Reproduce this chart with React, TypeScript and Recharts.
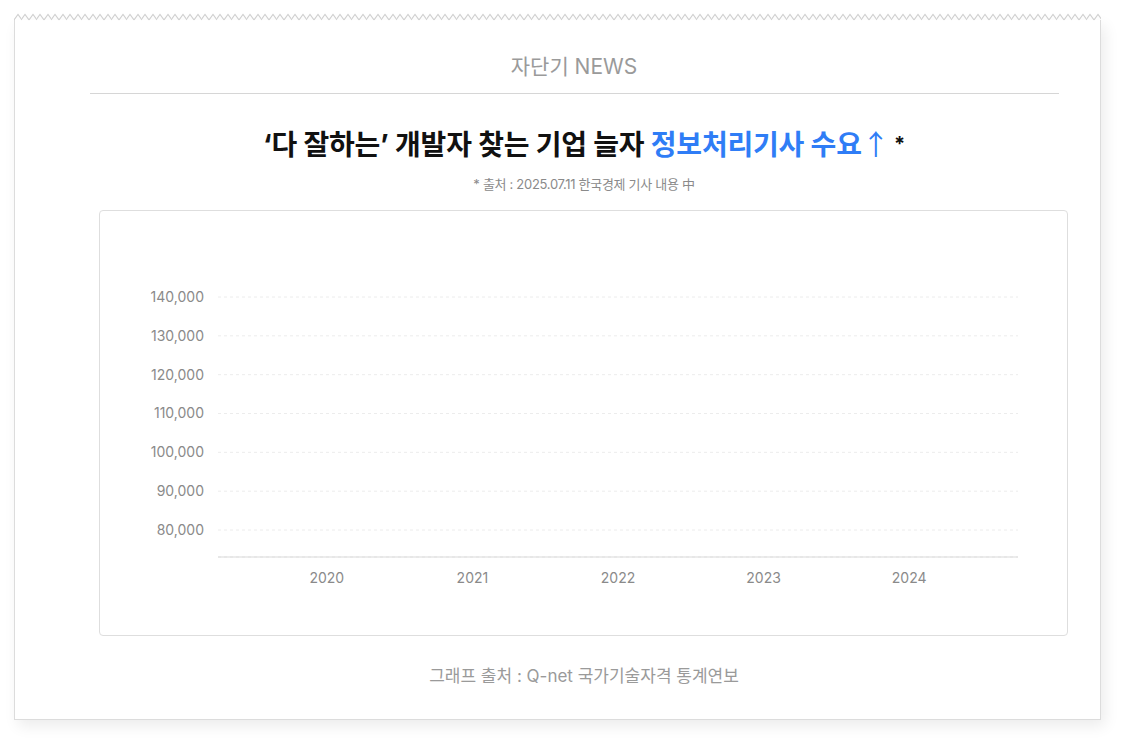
import { BarChart, CartesianGrid, XAxis, YAxis } from "recharts";

const years = ["2020", "2021", "2022", "2023", "2024"];
const yTicks = [80000, 90000, 100000, 110000, 120000, 130000, 140000];
const yDomain = [73050, 140000];

const font = "Inter, 'Noto Sans CJK KR', sans-serif";
const zigzag =
  "url(\"data:image/svg+xml;utf8,<svg xmlns='http://www.w3.org/2000/svg' width='7.5' height='8'><path d='M0 7 L3.75 1.5 L7.5 7' fill='none' stroke='%23cfcfcf' stroke-width='1'/></svg>\")";

export default function App() {
  const data = years.map((year) => ({ year }));

  return (
    <div style={{ position: "absolute", left: 0, top: 0, width: 1128, height: 748, background: "#fff", fontFamily: font }}>
      {/* paper card */}
      <div
        style={{
          position: "absolute",
          left: 14,
          top: 20,
          width: 1087,
          height: 700,
          background: "#fff",
          borderLeft: "1px solid #dcdcdc",
          borderRight: "1px solid #dcdcdc",
          borderBottom: "1px solid #dcdcdc",
          boxShadow: "4px 6px 14px rgba(0,0,0,0.08)",
          boxSizing: "border-box",
        }}
      />
      <div style={{ position: "absolute", left: 14, top: 13, width: 1087, height: 8, backgroundImage: zigzag, backgroundRepeat: "repeat-x" }} />

      <div style={{ position: "absolute", left: 0, width: 1148, top: 54, textAlign: "center", fontSize: 21, color: "#9a9a9a", lineHeight: "26px" }}>
        자단기 NEWS
      </div>
      <div style={{ position: "absolute", left: 90, top: 93, width: 969, height: 1, background: "#d6d6d6" }} />

      <div style={{ position: "absolute", left: 0, width: 1168, top: 124, textAlign: "center", fontSize: 28, fontWeight: 700, color: "#111", lineHeight: "38px", letterSpacing: -0.2 }}>
        ‘다 잘하는’ 개발자 찾는 기업 늘자 <span style={{ color: "#2f7df6" }}>정보처리기사 수요<span style={{ fontFamily: "'Noto Sans CJK KR'", fontWeight: 400 }}>↑</span></span>
        <span style={{ fontSize: 20, verticalAlign: 4 }}> *</span>
      </div>
      <div style={{ position: "absolute", left: 0, width: 1168, top: 175, textAlign: "center", fontSize: 13, color: "#8a8a8a", lineHeight: "18px", letterSpacing: -0.3 }}>
        * 출처 : 2025.07.11 한국경제 기사 내용 中
      </div>

      <div style={{ position: "absolute", left: 99, top: 210, width: 969, height: 426, border: "1px solid #dedede", borderRadius: 4, boxSizing: "border-box", background: "#fff" }}>
        <BarChart width={967} height={424} data={data} margin={{ top: 86, right: 49, bottom: 48, left: 18 }}>
          <CartesianGrid vertical={false} stroke="#ececec" strokeDasharray="3 3" />
          <XAxis
            dataKey="year"
            height={30}
            padding={{ left: 36, right: 36 }}
            axisLine={{ stroke: "#d9d9d9" }}
            tickLine={false}
            tickMargin={10}
            tick={{ fill: "#8a8a8a", fontSize: 14, fontFamily: font }}
          />
          <YAxis
            type="number"
            width={100}
            domain={yDomain}
            ticks={yTicks}
            allowDataOverflow
            axisLine={false}
            tickLine={false}
            tickMargin={8}
            tickFormatter={(v: number) => v.toLocaleString("en-US")}
            tick={{ fill: "#8a8a8a", fontSize: 14, fontFamily: font }}
          />
        </BarChart>
      </div>

      <div style={{ position: "absolute", left: 0, width: 1168, top: 664, textAlign: "center", fontSize: 17, color: "#9a9a9a", lineHeight: "24px" }}>
        그래프 출처 : Q-net 국가기술자격 통계연보
      </div>
    </div>
  );
}
